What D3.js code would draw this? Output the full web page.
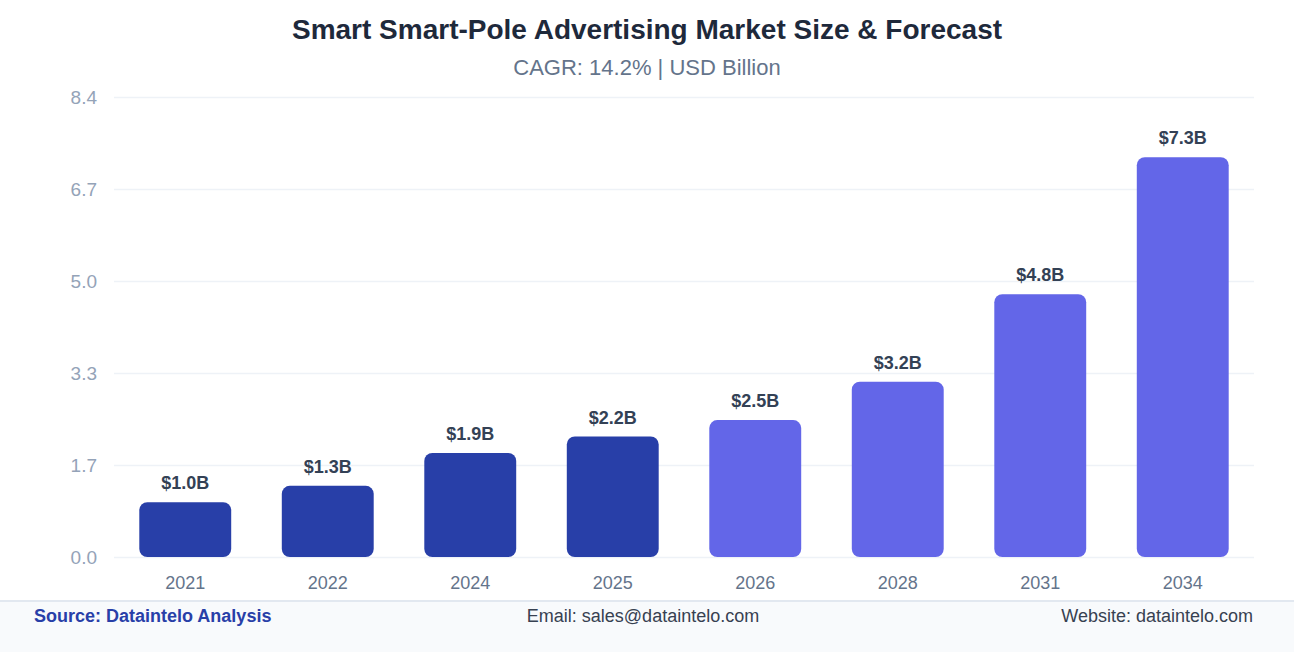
<!DOCTYPE html>
<html>
<head>
<meta charset="utf-8">
<script src="https://cdn.jsdelivr.net/npm/d3@7"></script>
<style>
  html, body { margin: 0; padding: 0; background: #fff; }
  body { font-family: "Liberation Sans", Arial, Helvetica, sans-serif; }
</style>
</head>
<body>
<div id="chart"></div>
<script>
var years = ["2021", "2022", "2024", "2025", "2026", "2028", "2031", "2034"];
var values = [1.0, 1.3, 1.9, 2.2, 2.5, 3.2, 4.8, 7.3];
var forecast = [false, false, false, false, true, true, true, true];
var yTicks = [0, 1.68, 3.36, 5.04, 6.72, 8.4];
var yTickLabels = ["0.0", "1.7", "3.3", "5.0", "6.7", "8.4"];

var W = 1294, H = 652;
var margin = {top: 97, right: 40, bottom: 95, left: 114};

var svg = d3.select("#chart").append("svg")
  .attr("width", W)
  .attr("height", H);

var x = d3.scaleBand()
  .domain(years)
  .range([margin.left, W - margin.right])
  .paddingInner(0.355)
  .paddingOuter(0.1775);

var y = d3.scaleLinear()
  .domain([0, 8.4])
  .range([H - margin.bottom, margin.top]);

// title
svg.append("text")
  .attr("x", W / 2).attr("y", 39)
  .attr("text-anchor", "middle")
  .attr("font-size", 28).attr("font-weight", "bold")
  .attr("fill", "#1e293b")
  .text("Smart Smart-Pole Advertising Market Size & Forecast");

svg.append("text")
  .attr("x", W / 2).attr("y", 75)
  .attr("text-anchor", "middle")
  .attr("font-size", 22)
  .attr("fill", "#64748b")
  .text("CAGR: 14.2% | USD Billion");

// grid + y axis
var yAxis = d3.axisLeft(y)
  .tickValues(yTicks)
  .tickSize(-(W - margin.left - margin.right))
  .tickPadding(17)
  .tickFormat((d, i) => yTickLabels[i]);

var gy = svg.append("g")
  .attr("transform", "translate(" + margin.left + ",0)")
  .call(yAxis);
gy.select(".domain").remove();
gy.selectAll("line").attr("stroke", "#eef2f7").attr("stroke-width", 1.5);
gy.selectAll("text")
  .attr("font-size", 19)
  .attr("font-family", "Liberation Sans, Arial, sans-serif")
  .attr("fill", "#94a3b8");

// x axis
var gx = svg.append("g")
  .attr("transform", "translate(0," + (H - margin.bottom) + ")")
  .call(d3.axisBottom(x).tickSize(0).tickPadding(19));
gx.select(".domain").remove();
gx.selectAll("text")
  .attr("font-size", 18)
  .attr("font-family", "Liberation Sans, Arial, sans-serif")
  .attr("fill", "#64748b");

// bars
svg.selectAll("rect.bar")
  .data(values)
  .enter()
  .append("rect")
  .attr("class", "bar")
  .attr("x", (d, i) => x(years[i]))
  .attr("y", d => y(d))
  .attr("width", x.bandwidth())
  .attr("height", d => y(0) - y(d))
  .attr("rx", 8).attr("ry", 8)
  .attr("fill", (d, i) => forecast[i] ? "#6366e8" : "#283fa8");

svg.selectAll("text.val")
  .data(values)
  .enter()
  .append("text")
  .attr("class", "val")
  .attr("x", (d, i) => x(years[i]) + x.bandwidth() / 2)
  .attr("y", d => y(d) - 13)
  .attr("text-anchor", "middle")
  .attr("font-size", 18).attr("font-weight", "bold")
  .attr("fill", "#334155")
  .text(d => "$" + d3.format(".1f")(d) + "B");

// footer
svg.append("rect")
  .attr("x", 0).attr("y", 601)
  .attr("width", W).attr("height", H - 601)
  .attr("fill", "#f8fafc");
svg.append("line")
  .attr("x1", 0).attr("x2", W)
  .attr("y1", 601).attr("y2", 601)
  .attr("stroke", "#e2e8f0").attr("stroke-width", 2);

svg.append("text")
  .attr("x", 34).attr("y", 622)
  .attr("font-size", 18).attr("font-weight", "bold")
  .attr("fill", "#283fa8")
  .text("Source: Dataintelo Analysis");
svg.append("text")
  .attr("x", 643).attr("y", 622)
  .attr("text-anchor", "middle")
  .attr("font-size", 18)
  .attr("fill", "#374151")
  .text("Email: sales@dataintelo.com");
svg.append("text")
  .attr("x", 1253).attr("y", 622)
  .attr("text-anchor", "end")
  .attr("font-size", 18)
  .attr("fill", "#374151")
  .text("Website: dataintelo.com");
</script>
</body>
</html>
